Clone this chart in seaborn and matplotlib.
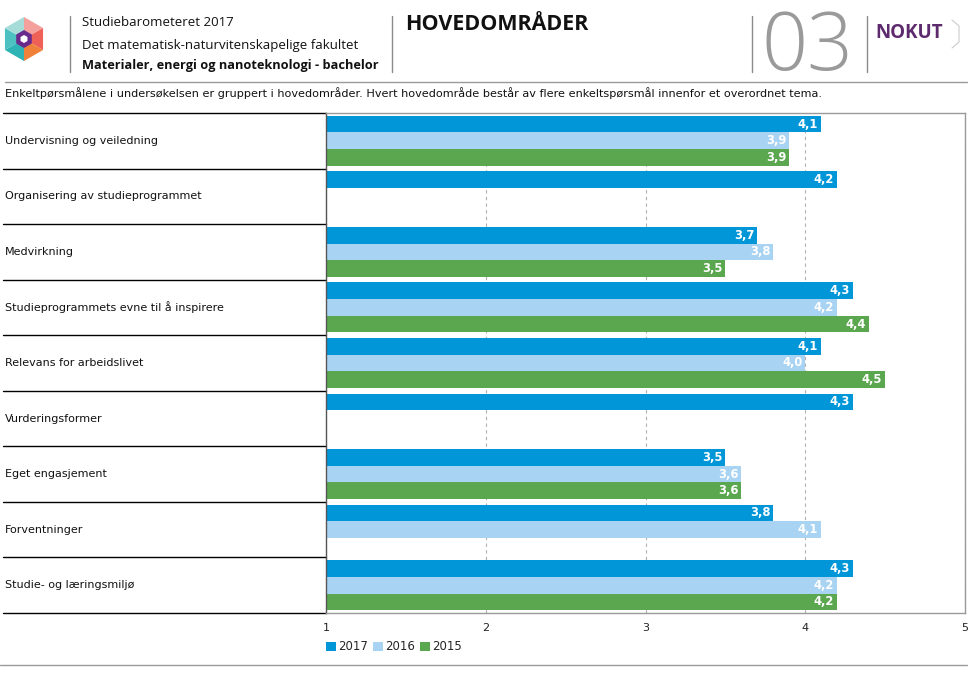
import numpy as np
import pandas as pd
import matplotlib
matplotlib.use("Agg")
import matplotlib.pyplot as plt
import matplotlib.transforms as mtransforms
from matplotlib.patches import Polygon, Patch
from matplotlib.lines import Line2D
import seaborn as sns

categories = [
    "Undervisning og veiledning",
    "Organisering av studieprogrammet",
    "Medvirkning",
    "Studieprogrammets evne til å inspirere",
    "Relevans for arbeidslivet",
    "Vurderingsformer",
    "Eget engasjement",
    "Forventninger",
    "Studie- og læringsmiljø",
]
years = ["2017", "2016", "2015"]
v2017 = [4.1, 4.2, 3.7, 4.3, 4.1, 4.3, 3.5, 3.8, 4.3]
v2016 = [3.9, None, 3.8, 4.2, 4.0, None, 3.6, 4.1, 4.2]
v2015 = [3.9, None, 3.5, 4.4, 4.5, None, 3.6, None, 4.2]
x_ticks = [1, 2, 3, 4, 5]
colors = ["#0096D8", "#A9D3F2", "#5BA74F"]

W, H = 977, 675
sns.set_style("white")
plt.rcParams["font.family"] = ["DejaVu Sans"]
fig = plt.figure(figsize=(W / 100, H / 100), dpi=100)


def fx(x):
    return x / W


def fy(y):
    return 1 - y / H


# ---------- main chart ----------
ax = fig.add_axes([fx(326), fy(613), (965 - 326) / W, (613 - 113) / H])
rows = []
for yr, vals in zip(years, [v2017, v2016, v2015]):
    for c, v in zip(categories, vals):
        if v is not None:
            rows.append(dict(cat=c, year=yr, value=v))
df = pd.DataFrame(rows)

sns.barplot(data=df, y="cat", x="value", hue="year", order=categories,
            hue_order=years, palette=colors, width=0.9, orient="h", ax=ax,
            linewidth=0, saturation=1, legend=False, errorbar=None)

ax.set_xlim(x_ticks[0], x_ticks[-1])
ax.set_xticks(x_ticks)
ax.set_xticklabels([str(t) for t in x_ticks], fontsize=8, color="#222222")
ax.tick_params(axis="x", length=0, pad=7)
ax.set_yticklabels([])
ax.tick_params(axis="y", length=0)
ax.set_xlabel("")
ax.set_ylabel("")
ax.set_axisbelow(True)
ax.grid(axis="x", linestyle=(0, (3, 3)), color="#b0b0b0", lw=0.8)
ax.grid(axis="y", visible=False)
for s in ["top", "right", "bottom"]:
    ax.spines[s].set_color("#999999")
    ax.spines[s].set_linewidth(1)
ax.spines["left"].set_color("#555555")
ax.spines["left"].set_linewidth(1)

# value labels
for cont in ax.containers:
    for p in cont:
        w = p.get_width()
        if w is None or np.isnan(w) or w == 0:
            continue
        ax.annotate(f"{w:.1f}".replace(".", ","),
                    xy=(w, p.get_y() + p.get_height() / 2),
                    xytext=(-3, 0), textcoords="offset pixels",
                    ha="right", va="center", color="white",
                    fontweight="bold", fontsize=8.3)

# category labels & separators
trans = mtransforms.blended_transform_factory(fig.transFigure, ax.transData)
ypos = ax.get_yticks()
for yv, c in zip(ypos, categories):
    ax.text(fx(5), yv, c, transform=trans, ha="left", va="center",
            fontsize=8, color="#111111", clip_on=False)
for b in np.arange(-0.5, len(categories) + 0.5, 1.0):
    ax.add_line(Line2D([fx(3), fx(326)], [b, b], transform=trans,
                       color="black", lw=1, clip_on=False))

# legend
handles = [Patch(facecolor=c, edgecolor="none") for c in colors]
fig.legend(handles=handles, labels=years, loc="center left",
           bbox_to_anchor=(fx(326), fy(647)), ncol=3, frameon=False,
           fontsize=8.5, handlelength=0.85, handleheight=0.85,
           handletextpad=0.15, columnspacing=0.45, borderpad=0,
           borderaxespad=0)

# ---------- header ----------
def vline(x, y0, y1, color="#8a8a8a", lw=1):
    fig.add_artist(Line2D([fx(x), fx(x)], [fy(y0), fy(y1)], color=color, lw=lw))


def hline(y, x0, x1, color="#999999", lw=1):
    fig.add_artist(Line2D([fx(x0), fx(x1)], [fy(y), fy(y)], color=color, lw=lw))


vline(70, 16, 72)
vline(392, 16, 72)
vline(752, 16, 72)
vline(867, 16, 72)
hline(82, 5, 967)
hline(665, 0, 967)

fig.text(fx(82), fy(22), "Studiebarometeret 2017", fontsize=9.5,
         family=["Open Sans", "DejaVu Sans"], va="center", color="#111111")
fig.text(fx(82), fy(45), "Det matematisk-naturvitenskapelige fakultet", fontsize=9.5,
         family=["Open Sans", "DejaVu Sans"], va="center", color="#111111")
fig.text(fx(82), fy(66), "Materialer, energi og nanoteknologi - bachelor", fontsize=9.2,
         family=["Open Sans", "DejaVu Sans"], fontweight="bold", va="center",
         color="#111111")
fig.text(fx(405), fy(25), "HOVEDOMRÅDER", fontsize=15.5,
         family=["Open Sans", "DejaVu Sans"], fontweight="bold", va="center",
         color="#111111")
fig.text(fx(762), fy(49), "03", fontsize=58, family=["Open Sans", "DejaVu Sans"],
         fontweight=300, va="center", color="#9a9a9a")
fig.text(fx(875), fy(33), "NOKUT", fontsize=13.5, family=["Open Sans", "DejaVu Sans"],
         fontweight="bold", va="center", color="#5E2A6E")
fig.add_artist(Line2D([fx(952), fx(959), fx(959), fx(952)],
                      [fy(20), fy(26), fy(42), fy(48)], color="#cccccc", lw=0.8))

# logo
lax = fig.add_axes([fx(0), fy(63), fx(48), 48 / H])
lax.set_xlim(-24, 24)
lax.set_ylim(-24, 24)
lax.set_aspect("equal")
lax.axis("off")
R = 22
angles = np.deg2rad([90, 30, -30, -90, -150, 150, 90])
vx = R * np.cos(angles)
vy = R * np.sin(angles)
seg_colors = ["#F4A09C", "#EF6157", "#F0813A", "#2FB4B6", "#4DC0C2", "#A6DCD8"]
for i, c in enumerate(seg_colors):
    lax.add_patch(Polygon([(0, 0), (vx[i], vy[i]), (vx[i + 1], vy[i + 1])],
                          closed=True, facecolor=c, edgecolor="none"))
lax.add_patch(Polygon(np.c_[9 * np.cos(angles[:-1]), 9 * np.sin(angles[:-1])],
                      closed=True, facecolor="#6A2A8C", edgecolor="none"))
lax.add_patch(Polygon(np.c_[4 * np.cos(angles[:-1]), 4 * np.sin(angles[:-1])],
                      closed=True, facecolor="white", edgecolor="none"))

# intro text
fig.text(fx(5), fy(93), "Enkeltpørsmålene i undersøkelsen er gruppert i hovedområder. "
         "Hvert hovedområde består av flere enkeltspørsmål innenfor et overordnet tema.",
         fontsize=8.1, va="center", color="#111111")

fig.savefig("out.png", dpi=100)
